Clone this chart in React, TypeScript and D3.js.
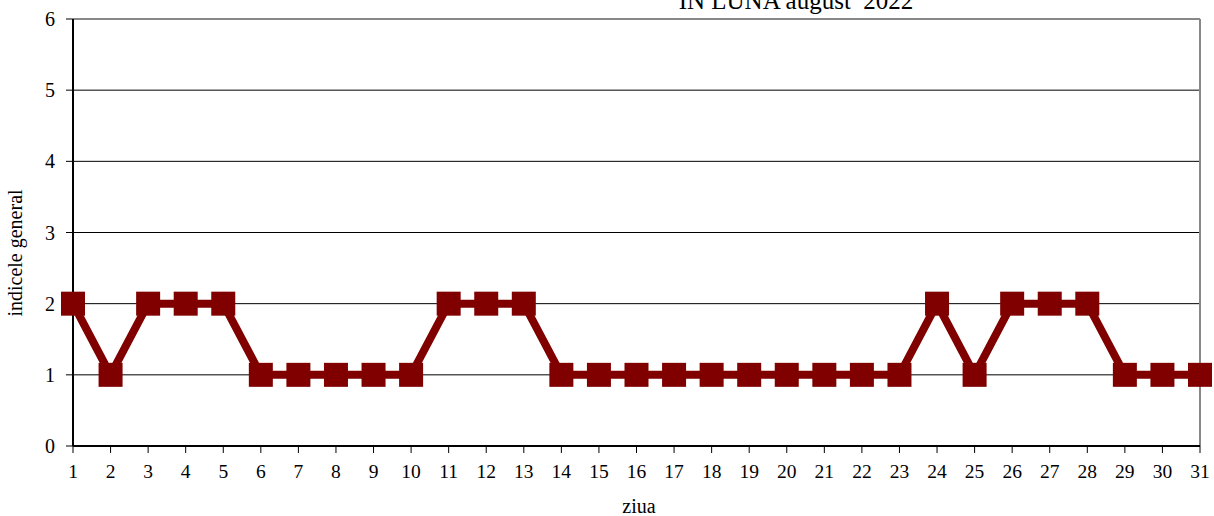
import React from 'react';
import * as d3 from 'd3';

const days = d3.range(1, 32);
const values = [2, 1, 2, 2, 2, 1, 1, 1, 1, 1, 2, 2, 2, 1, 1, 1, 1, 1, 1, 1, 1, 1, 1, 2, 1, 2, 2, 2, 1, 1, 1];
const yTicks = [0, 1, 2, 3, 4, 5, 6];
const title = 'IN LUNA august  2022';

const W = 1214;
const H = 516;
const left = 73;
const right = 1200;
const top = 19;
const bottom = 446;
const color = '#800000';
const font = '"Liberation Serif", "Times New Roman", serif';

export default function App() {
  const x = d3.scaleLinear().domain([1, 31]).range([left, right]);
  const y = d3.scaleLinear().domain([0, 6]).range([bottom, top]);
  const line = d3.line<number>()
    .x((_, i) => x(days[i]))
    .y((d) => y(d));

  return (
    <svg width={W} height={H} style={{ position: 'absolute', left: 0, top: 0, fontFamily: font }}>
      <rect x={0} y={0} width={W} height={H} fill="#fff" />
      {/* title, partly cut at top in the original */}
      <text x={796} y={9} textAnchor="middle" fontSize={25} fill="#000" xmlSpace="preserve">{title}</text>

      {/* gridlines */}
      {yTicks.filter((t) => t > 0 && t < 6).map((t) => (
        <line key={t} x1={left} x2={right} y1={y(t)} y2={y(t)} stroke="#000" strokeWidth={1} />
      ))}
      {/* plot border */}
      <line x1={left} x2={right} y1={y(6)} y2={y(6)} stroke="#888" strokeWidth={2} />
      <line x1={right} x2={right} y1={top} y2={bottom} stroke="#888" strokeWidth={2} />

      {/* y axis */}
      <line x1={left} x2={left} y1={top} y2={bottom} stroke="#000" strokeWidth={2} />
      {yTicks.map((t) => (
        <g key={t}>
          <line x1={left - 7} x2={left} y1={y(t)} y2={y(t)} stroke="#000" strokeWidth={1} />
          <text x={55} y={y(t)} dy="0.35em" textAnchor="end" fontSize={20}>{t}</text>
        </g>
      ))}

      {/* x axis */}
      <line x1={left} x2={right} y1={bottom} y2={bottom} stroke="#000" strokeWidth={2} />
      {days.map((d) => (
        <g key={d}>
          <line x1={x(d)} x2={x(d)} y1={bottom} y2={bottom + 7} stroke="#000" strokeWidth={1} />
          <text x={x(d)} y={478} textAnchor="middle" fontSize={19.5}>{d}</text>
        </g>
      ))}

      <text x={639} y={513} textAnchor="middle" fontSize={20}>ziua</text>
      <text transform={`translate(22,253) rotate(-90)`} textAnchor="middle" fontSize={20}>indicele general</text>

      {/* series */}
      <path d={line(values) || ''} fill="none" stroke={color} strokeWidth={8} strokeLinejoin="miter" />
      {values.map((v, i) => (
        <rect key={i} x={x(days[i]) - 12} y={y(v) - 12} width={24} height={24} fill={color} />
      ))}
    </svg>
  );
}
